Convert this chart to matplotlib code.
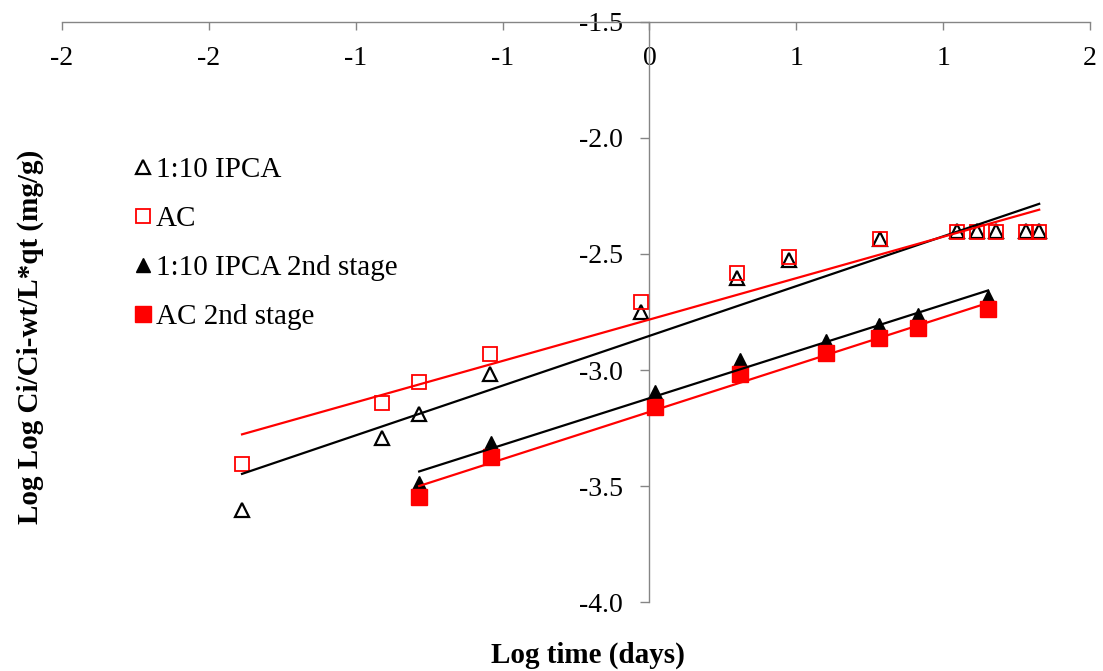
import numpy as np
import matplotlib
matplotlib.use("Agg")
import matplotlib.pyplot as plt
from matplotlib.lines import Line2D

# Log time (days) for the first-stage runs and the second-stage runs
log_t_first = [-1.387, -0.910, -0.784, -0.543, -0.029, 0.298, 0.475, 0.785,
               1.047, 1.115, 1.180, 1.282, 1.327]
log_t_second = [-0.784, -0.539, 0.019, 0.308, 0.601, 0.782, 0.915, 1.153]

# Log Log Ci/Ci-wt/L*qt (mg/g)
ipca = [-3.603, -3.293, -3.190, -3.017, -2.750, -2.604, -2.526, -2.436,
        -2.403, -2.403, -2.403, -2.403, -2.403]
ac = [-3.405, -3.142, -3.052, -2.931, -2.707, -2.582, -2.513, -2.436,
      -2.406, -2.406, -2.406, -2.406, -2.406]
ipca_2nd = [-3.487, -3.314, -3.094, -2.956, -2.875, -2.806, -2.763, -2.686]
ac_2nd = [-3.547, -3.374, -3.159, -3.017, -2.927, -2.862, -2.819, -2.737]

labels = ["1:10 IPCA", "AC", "1:10 IPCA 2nd stage", "AC 2nd stage"]
x_ticks = [-2.0, -1.5, -1.0, -0.5, 0.0, 0.5, 1.0, 1.5]
x_tick_labels = ["-2", "-2", "-1", "-1", "0", "1", "1", "2"]
y_ticks = [-4.0, -3.5, -3.0, -2.5, -2.0, -1.5]

plt.rcParams["font.family"] = ["Liberation Serif", "DejaVu Serif"]
FS_TICK = 20
FS = 21
AXIS_GREY = "#858585"

W, H = 1103, 671
fig = plt.figure(figsize=(W / 100, H / 100), dpi=100)
ax = fig.add_axes([62 / W, 1 - 602.3 / H, 1028 / W, 580.6 / H])
ax.set_xlim(-2.0, 1.5)
ax.set_ylim(-4.0, -1.5)

# Axes cross at x = 0 and y = -1.5
for side in ("top", "right"):
    ax.spines[side].set_visible(False)
ax.spines["bottom"].set_position(("data", -1.5))
ax.spines["left"].set_position(("data", 0.0))
for side in ("bottom", "left"):
    ax.spines[side].set_color(AXIS_GREY)
    ax.spines[side].set_linewidth(1.0)

ax.set_xticks(x_ticks)
ax.set_xticklabels(x_tick_labels)
ax.set_yticks(y_ticks)
ax.set_yticklabels([f"{v:.1f}" for v in y_ticks])
ax.tick_params(axis="x", direction="out", length=6, width=1.0, color=AXIS_GREY,
               labelsize=FS_TICK, pad=11.5)
ax.tick_params(axis="y", direction="out", length=6.5, width=1.0, color=AXIS_GREY,
               labelsize=FS_TICK, pad=12.5)

series = [
    (log_t_first, ipca, dict(marker="^", mfc="none", mec="black", ms=10.5, mew=1.6), "black"),
    (log_t_first, ac, dict(marker="s", mfc="none", mec="red", ms=10.5, mew=1.3), "red"),
    (log_t_second, ipca_2nd, dict(marker="^", mfc="black", mec="black", ms=10.5, mew=1.0), "black"),
    (log_t_second, ac_2nd, dict(marker="s", mfc="red", mec="red", ms=11, mew=1.0), "red"),
]

handles = []
for (xs, ys, style, lc), lab in zip(series, labels):
    ax.plot(xs, ys, linestyle="none", zorder=3, clip_on=False, **style)
    # Linear trend line over the span of the series
    x_arr = np.asarray(xs)
    slope, intercept = np.polyfit(x_arr, np.asarray(ys), 1)
    xl = np.array([x_arr.min(), x_arr.max()])
    ax.plot(xl, slope * xl + intercept, color=lc, lw=1.6, zorder=4)
    handles.append(Line2D([], [], linestyle="none", label=lab, **style))

fig.legend(handles=handles, loc="upper left",
           bbox_to_anchor=(134 / W, 1 - 157 / H), frameon=False,
           fontsize=FS, handlelength=0.6, handletextpad=0.15,
           labelspacing=0.77, borderpad=0.0, borderaxespad=0.0)

fig.text(30 / W, 1 - 337 / H, "Log Log Ci/Ci-wt/L*qt (mg/g)", rotation=90,
         ha="center", va="center", fontsize=FS, fontweight="bold")
fig.text(588 / W, 1 - 655 / H, "Log time (days)", ha="center", va="center",
         fontsize=FS, fontweight="bold")

fig.savefig("out.png", dpi=100)
